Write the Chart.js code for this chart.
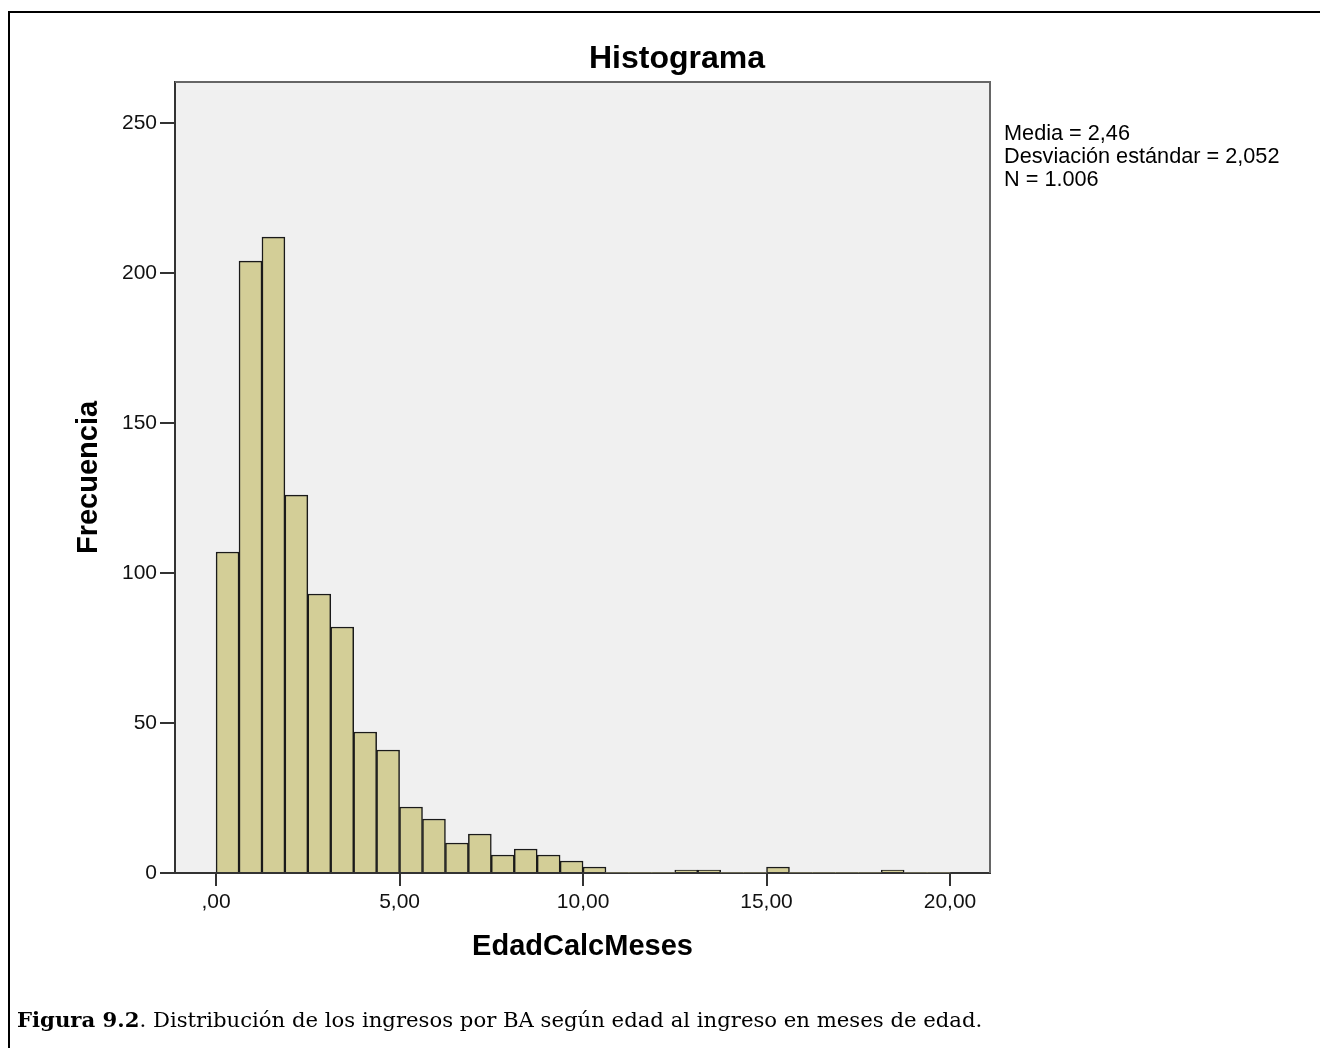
<!DOCTYPE html>
<html lang="es">
<head>
<meta charset="utf-8">
<title>Histograma</title>
<script src="https://cdn.jsdelivr.net/npm/chart.js@4.4.1/dist/chart.umd.min.js"></script>
<style>
  html, body { margin: 0; padding: 0; background: #fff; overflow: hidden; }
  #pagina { position: relative; width: 1328px; height: 1048px; }
  #marco { position: absolute; left: 8px; top: 11px; width: 1310px; height: 1100px;
           border-left: 2.5px solid #000; border-top: 2px solid #000; }
  #contenedor { position: absolute; left: 0; top: 0; width: 1328px; height: 1048px; }
  #titulo { position: absolute; left: 377px; top: 41px; width: 600px; text-align: center;
            font: bold 32px/32px 'Liberation Sans', Arial, sans-serif; color: #000; }
  #estadisticos { position: absolute; left: 1004px; top: 121px;
                  font: 21.7px/23px 'Liberation Sans', Arial, sans-serif; color: #000; white-space: nowrap; }
  #leyenda { position: absolute; left: 17px; top: 1006px; white-space: nowrap;
             font: 21.2px/28px 'DejaVu Serif', 'Liberation Serif', serif; color: #000; }
</style>
</head>
<body>
<div id="pagina">
  <div id="marco"></div>
  <div id="contenedor"><canvas id="graficoHistograma"></canvas></div>
  <div id="titulo">Histograma</div>
  <div id="estadisticos">Media = 2,46<br>Desviación estándar = 2,052<br>N = 1.006</div>
  <div id="leyenda"><b>Figura 9.2</b>. Distribución de los ingresos por BA según edad al ingreso en meses de edad.</div>
</div>
<script>
  // Intervalos del histograma (inicio de cada barra, en meses) y sus frecuencias
  const anchoIntervalo = 0.625;
  const iniciosIntervalo = [
    0, 0.625, 1.25, 1.875, 2.5, 3.125, 3.75, 4.375,
    5, 5.625, 6.25, 6.875, 7.5, 8.125, 8.75, 9.375,
    10, 10.625, 11.25, 11.875, 12.5, 13.125, 13.75, 14.375,
    15, 15.625, 16.25, 16.875, 17.5, 18.125, 18.75, 19.375
  ];
  const frecuencias = [
    107, 204, 212, 126, 93, 82, 47, 41,
    22, 18, 10, 13, 6, 8, 6, 4,
    2, 0, 0, 0, 1, 1, 0, 0,
    2, 0, 0, 0, 0, 1, 0, 0
  ];

  // Marcas de los ejes
  const valoresEjeX = [0, 5, 10, 15, 20];
  const etiquetasEjeX = [',00', '5,00', '10,00', '15,00', '20,00'];
  const valoresEjeY = [0, 50, 100, 150, 200, 250];

  Chart.defaults.font.family = "'Liberation Sans', Arial, sans-serif";
  Chart.defaults.color = '#111';

  // Fondo gris del área de trazado y líneas superior/derecha del recuadro
  const recuadro = {
    id: 'recuadro',
    beforeDraw(chart) {
      const { ctx, chartArea: a } = chart;
      ctx.save();
      ctx.fillStyle = '#f0f0f0';
      ctx.fillRect(a.left, a.top, a.right - a.left, a.bottom - a.top);
      ctx.restore();
    },
    afterDraw(chart) {
      const { ctx, chartArea: a } = chart;
      ctx.save();
      ctx.strokeStyle = '#666';
      ctx.lineWidth = 2;
      ctx.beginPath();
      ctx.moveTo(a.left, a.top);
      ctx.lineTo(a.right, a.top);
      ctx.lineTo(a.right, a.bottom);
      ctx.stroke();
      ctx.restore();
    }
  };

  const ctx = document.getElementById('graficoHistograma').getContext('2d');
  new Chart(ctx, {
    type: 'bar',
    data: {
      datasets: [{
        label: 'Frecuencia',
        data: iniciosIntervalo.map((inicio, i) => ({ x: inicio + anchoIntervalo / 2, y: frecuencias[i] })),
        backgroundColor: '#d3ce97',
        borderColor: '#1a1a1a',
        borderWidth: c => (c.parsed && c.parsed.y > 0) ? 1.5 : 0,
        borderSkipped: 'start',
        barPercentage: 1,
        categoryPercentage: 1
      }]
    },
    options: {
      responsive: true,
      maintainAspectRatio: false,
      animation: false,
      layout: { padding: { left: 60, top: 82, right: 338, bottom: 70 } },
      plugins: {
        legend: { display: false },
        tooltip: { enabled: false }
      },
      scales: {
        x: {
          type: 'linear',
          offset: false,
          min: -1.12,
          max: 21.09,
          afterFit: s => { s.height = 105; },
          afterBuildTicks: s => { s.ticks = valoresEjeX.map(v => ({ value: v })); },
          ticks: {
            font: { size: 21 },
            color: '#111',
            padding: 4,
            maxRotation: 0,
            callback: v => etiquetasEjeX[valoresEjeX.indexOf(v)]
          },
          grid: { offset: false, drawOnChartArea: false, drawTicks: true, tickLength: 13, color: '#333', lineWidth: 2 },
          border: { display: true, color: '#333', width: 2 },
          title: {
            display: true,
            text: 'EdadCalcMeses',
            font: { size: 29, weight: 'bold' },
            color: '#000',
            padding: { top: 0, bottom: 14 }
          }
        },
        y: {
          min: 0,
          max: 263.7,
          afterFit: s => { s.width = 115; },
          afterBuildTicks: s => { s.ticks = valoresEjeY.map(v => ({ value: v })); },
          ticks: {
            font: { size: 21 },
            color: '#111',
            padding: 3,
            callback: v => String(v)
          },
          grid: { drawOnChartArea: false, drawTicks: true, tickLength: 15, color: '#333', lineWidth: 2 },
          border: { display: true, color: '#333', width: 2 },
          title: {
            display: true,
            text: 'Frecuencia',
            font: { size: 29, weight: 'bold' },
            color: '#000',
            padding: { top: 12, bottom: 0 }
          }
        }
      }
    },
    plugins: [recuadro]
  });
</script>
</body>
</html>
